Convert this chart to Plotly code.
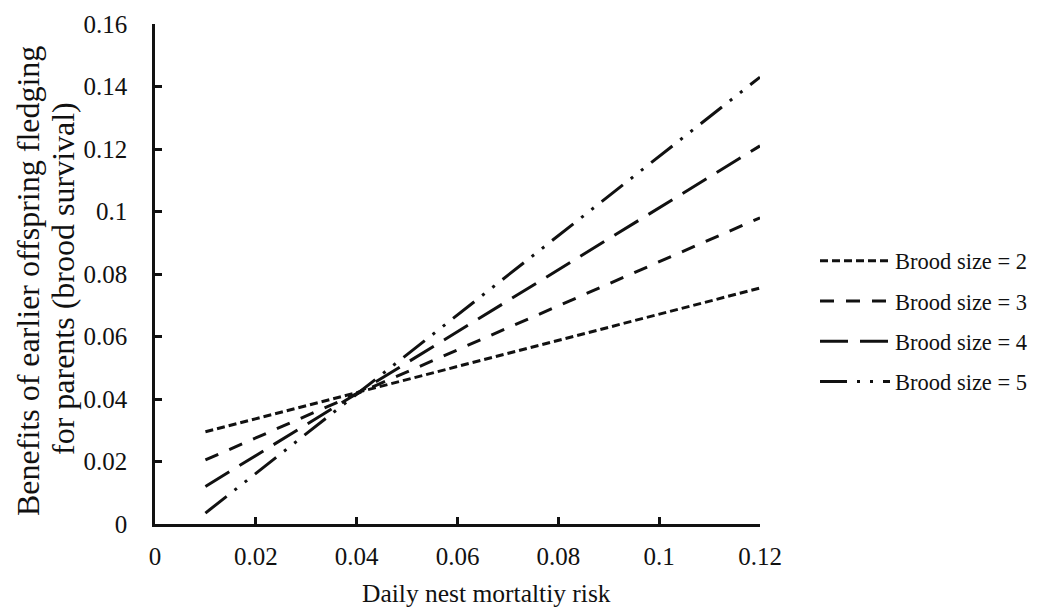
import plotly.graph_objects as go

x_vals = [0.01, 0.12]
brood2 = [0.0295, 0.0755]
brood3 = [0.0205, 0.098]
brood4 = [0.012, 0.121]
brood5 = [0.0035, 0.143]
names = ["Brood size = 2", "Brood size = 3", "Brood size = 4", "Brood size = 5"]
x_ticks = [0, 0.02, 0.04, 0.06, 0.08, 0.1, 0.12]
x_ticktext = ["0", "0.02", "0.04", "0.06", "0.08", "0.1", "0.12"]
y_ticks = [0, 0.02, 0.04, 0.06, 0.08, 0.1, 0.12, 0.14, 0.16]
y_ticktext = ["0", "0.02", "0.04", "0.06", "0.08", "0.1", "0.12", "0.14", "0.16"]
x_title = "Daily nest mortaltiy risk"
y_title_lines = ["Benefits of earlier offspring fledging", "for parents (brood survival)"]

series = [brood2, brood3, brood4, brood5]
dashes = ["8px,4px", "14px,12px", "28px,12px", "27px,10px,3px,10px,3px,10px"]

FONT = "Liberation Serif"
# page body has an 8px margin: figure coordinates are screen coordinates minus 8
OFF = 8
L, T, PW, PH = 155 - OFF, 24 - OFF, 605, 500
W, H = 1047, 602

fig = go.Figure()
for i, (name, ys, d) in enumerate(zip(names, series, dashes)):
    fig.add_trace(go.Scatter(x=x_vals, y=ys, mode="lines", name=name,
                             legendgroup="g%d" % i,
                             line=dict(color="#111111", width=3, dash=d)))

def px(xs):
    return (xs - OFF - L) / PW

def py(ys):
    return (T + PH - (ys - OFF)) / PH

fig.update_layout(
    width=W, height=H,
    margin=dict(l=L, r=W - L - PW, t=T, b=H - T - PH),
    paper_bgcolor="white", plot_bgcolor="white",
    font=dict(family=FONT, size=25, color="#111111"),
    showlegend=True,
    legend=dict(x=px(815), y=py(321), xanchor="left", yanchor="middle",
                font=dict(family=FONT, size=22.5, color="#111111"),
                itemwidth=70, tracegroupgap=8, bgcolor="rgba(0,0,0,0)"),
    xaxis=dict(range=[0, 0.12], tickvals=x_ticks, ticktext=x_ticktext,
               showgrid=False, zeroline=False, showline=True, linecolor="#111111",
               linewidth=2.5, ticks="inside", ticklen=7, tickwidth=2.5, tickcolor="#111111",
               ticklabelstandoff=8, automargin=False),
    yaxis=dict(range=[0, 0.16], tickvals=y_ticks, ticktext=y_ticktext,
               showgrid=False, zeroline=False, showline=True, linecolor="#111111",
               linewidth=2.5, ticks="inside", ticklen=7, tickwidth=2.5, tickcolor="#111111",
               ticklabelstandoff=20, automargin=False),
)
fig.add_annotation(text=x_title, xref="paper", yref="paper", x=px(486),
                   y=py(593), xanchor="center", yanchor="middle",
                   showarrow=False, font=dict(size=25.5))
fig.add_annotation(text=y_title_lines[0], xref="paper", yref="paper", x=px(28),
                   y=py(281), xanchor="center", yanchor="middle", textangle=-90,
                   showarrow=False, font=dict(size=32))
fig.add_annotation(text=y_title_lines[1], xref="paper", yref="paper", x=px(63),
                   y=py(279), xanchor="center", yanchor="middle", textangle=-90,
                   showarrow=False, font=dict(size=32))
fig.write_html("out.html")
